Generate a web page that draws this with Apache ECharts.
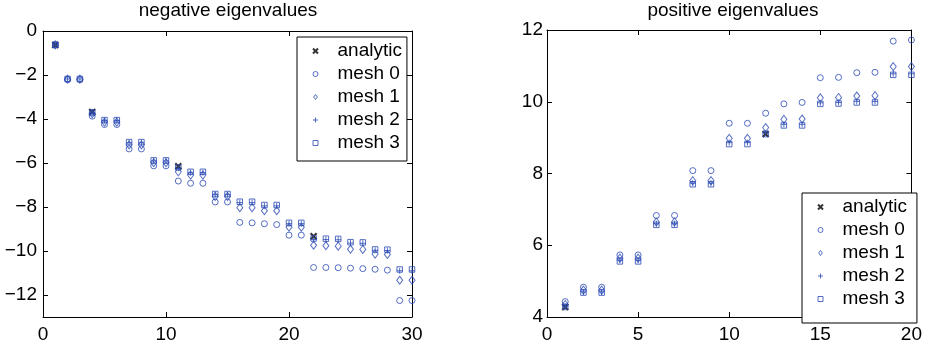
<!DOCTYPE html>
<html>
<head>
<meta charset="utf-8">
<script src="https://cdn.jsdelivr.net/npm/echarts@6/dist/echarts.min.js"></script>
<style>
  html, body { margin: 0; padding: 0; background: #fff; }
  #chart { width: 925px; height: 349px; }
</style>
</head>
<body>
<div id="chart"></div>
<script>
// ---- negative eigenvalues (index 1..30) ----
const negIndex = [1,2,3,4,5,6,7,8,9,10,11,12,13,14,15,16,17,18,19,20,21,22,23,24,25,26,27,28,29,30];
const negAnalyticIndex = [1, 4, 11, 22];
const negAnalytic = [-0.64, -3.68, -6.15, -9.33];
const negMesh0 = [-0.64,-2.21,-2.21,-3.87,-4.25,-4.25,-5.36,-5.36,-6.13,-6.13,-6.82,-6.92,-6.92,-7.77,-7.77,
                  -8.70,-8.72,-8.76,-8.80,-9.28,-9.28,-10.75,-10.75,-10.76,-10.78,-10.80,-10.83,-10.87,-12.25,-12.25];
const negMesh1 = [-0.63,-2.19,-2.19,-3.76,-4.14,-4.14,-5.18,-5.18,-5.99,-5.99,-6.40,-6.55,-6.55,-7.52,-7.52,
                  -8.03,-8.03,-8.17,-8.17,-8.92,-8.92,-9.74,-9.76,-9.78,-9.92,-9.93,-10.14,-10.16,-11.33,-11.33];
const negMesh2 = [-0.62,-2.18,-2.18,-3.71,-4.07,-4.07,-5.08,-5.08,-5.91,-5.91,-6.24,-6.44,-6.44,-7.44,-7.44,
                  -7.80,-7.80,-7.95,-7.95,-8.76,-8.76,-9.48,-9.48,-9.49,-9.64,-9.65,-9.97,-9.98,-10.90,-10.90];
const negMesh3 = [-0.62,-2.18,-2.18,-3.70,-4.05,-4.05,-5.05,-5.05,-5.88,-5.88,-6.20,-6.40,-6.40,-7.41,-7.41,
                  -7.76,-7.76,-7.91,-7.91,-8.72,-8.72,-9.43,-9.44,-9.45,-9.60,-9.61,-9.93,-9.94,-10.84,-10.84];
const negYTicks = [-12, -10, -8, -6, -4, -2, 0];

// ---- positive eigenvalues (index 1..20) ----
const posIndex = [1,2,3,4,5,6,7,8,9,10,11,12,13,14,15,16,17,18,19,20];
const posAnalyticIndex = [1, 12];
const posAnalytic = [4.28, 9.10];
const posMesh0 = [4.43,4.83,4.83,5.73,5.73,6.83,6.83,8.08,8.08,9.40,9.40,9.68,9.94,9.98,10.67,10.68,10.81,10.82,11.69,11.72];
const posMesh1 = [4.35,4.75,4.75,5.64,5.64,6.65,6.65,7.80,7.80,8.98,8.98,9.28,9.51,9.52,10.11,10.12,10.16,10.17,10.98,10.98];
const posMesh2 = [4.30,4.70,4.70,5.58,5.58,6.60,6.60,7.73,7.73,8.86,8.86,9.13,9.37,9.37,9.97,9.98,10.01,10.01,10.78,10.78];
const posMesh3 = [4.28,4.68,4.68,5.55,5.55,6.57,6.57,7.70,7.70,8.82,8.82,9.10,9.34,9.34,9.94,9.95,9.98,9.98,10.75,10.75];

const seriesNames = ['analytic', 'mesh 0', 'mesh 1', 'mesh 2', 'mesh 3'];
const titles = ['negative eigenvalues', 'positive eigenvalues'];

const FONT = '"Liberation Sans", Arial, Helvetica, sans-serif';
const BLUE = '#2a4ab4';
const FS = 19;

const pairs = (xs, ys) => xs.map((x, i) => [x, ys[i]]);
const minus = v => String(v).replace('-', '\u2212');

// hollow markers: transparent fill, outline only
const hollow = { color: 'transparent', borderColor: BLUE, borderWidth: 1 };
const markerStyles = {
  'analytic': { symbol: 'path://M0,0L10,10M10,0L0,10', symbolSize: 6,
                itemStyle: { color: 'transparent', borderColor: '#000', borderWidth: 2 } },
  'mesh 0':   { symbol: 'circle', symbolSize: 6, itemStyle: hollow },
  'mesh 1':   { symbol: 'path://M3,0L6,4L3,8L0,4Z', symbolSize: [6, 8], itemStyle: hollow },
  'mesh 2':   { symbol: 'path://M5,0L5,10M0,5L10,5', symbolSize: 6, itemStyle: hollow },
  'mesh 3':   { symbol: 'path://M0,0L10,0L10,10L0,10Z', symbolSize: 5.5, itemStyle: hollow }
};

function scatter(name, xAxisIndex, yAxisIndex, data) {
  return Object.assign({
    type: 'scatter', name, xAxisIndex, yAxisIndex, data,
    emphasis: { disabled: true }, silent: true, clip: false
  }, markerStyles[name]);
}

const axisLine = { show: true, onZero: false, lineStyle: { color: '#000', width: 1 } };
const tickIn = { show: true, inside: true, length: 5, lineStyle: { color: '#000' } };
const labelStyle = { color: '#000', fontFamily: FONT, fontSize: FS };

function xAxes(gridIndex, min, max, interval) {
  return [
    { type: 'value', gridIndex, min, max, interval, position: 'bottom',
      axisLine, axisTick: tickIn, splitLine: { show: false },
      axisLabel: Object.assign({ margin: 8, formatter: minus }, labelStyle) },
    { type: 'value', gridIndex, min, max, interval, position: 'top',
      axisLine, axisTick: tickIn, splitLine: { show: false }, axisLabel: { show: false } }
  ];
}

function legendAt(left, top, padRight, padBottom) {
  return {
    orient: 'vertical', left, top, selectedMode: false,
    data: seriesNames.map(name => ({
      name, itemStyle: { borderWidth: name === 'analytic' ? 2 : 1 }
    })),
    backgroundColor: '#fff', borderColor: '#000', borderWidth: 1, borderRadius: 0,
    padding: [4, padRight, padBottom, 15], itemWidth: 34, itemHeight: 5, itemGap: 3,
    symbolKeepAspect: true,
    textStyle: { color: '#000', fontFamily: FONT, fontSize: FS, lineHeight: 20 }
  };
}

const option = {
  animation: false,
  backgroundColor: '#fff',
  graphic: [
    { type: 'text', x: 228, y: 1, style: { text: titles[0], textAlign: 'center', fill: '#000', font: FS + 'px ' + FONT } },
    { type: 'text', x: 733, y: 1, style: { text: titles[1], textAlign: 'center', fill: '#000', font: FS + 'px ' + FONT } }
  ],
  grid: [
    { left: 43, top: 31, width: 369, height: 286 },
    { left: 547, top: 30, width: 371, height: 287 }
  ],
  xAxis: [
    ...xAxes(0, 0, 30, 10),
    ...xAxes(1, 0, 20, 5)
  ],
  yAxis: [
    { type: 'value', gridIndex: 0, min: -13, max: 0, position: 'left',
      axisLine, splitLine: { show: false },
      axisTick: Object.assign({ customValues: negYTicks }, tickIn),
      axisLabel: Object.assign({ margin: 6, customValues: negYTicks, formatter: minus }, labelStyle) },
    { type: 'value', gridIndex: 0, min: -13, max: 0, position: 'right',
      axisLine, splitLine: { show: false },
      axisTick: Object.assign({ customValues: negYTicks }, tickIn),
      axisLabel: { show: false } },
    { type: 'value', gridIndex: 1, min: 4, max: 12, interval: 2, position: 'left',
      axisLine, splitLine: { show: false }, axisTick: tickIn,
      axisLabel: Object.assign({ margin: 4 }, labelStyle) },
    { type: 'value', gridIndex: 1, min: 4, max: 12, interval: 2, position: 'right',
      axisLine, splitLine: { show: false }, axisTick: tickIn, axisLabel: { show: false } }
  ],
  legend: [legendAt(297, 37, 5, 8), legendAt(802, 193, 10, 14)],
  series: [
    scatter('analytic', 0, 0, pairs(negAnalyticIndex, negAnalytic)),
    scatter('mesh 0', 0, 0, pairs(negIndex, negMesh0)),
    scatter('mesh 1', 0, 0, pairs(negIndex, negMesh1)),
    scatter('mesh 2', 0, 0, pairs(negIndex, negMesh2)),
    scatter('mesh 3', 0, 0, pairs(negIndex, negMesh3)),
    scatter('analytic', 2, 2, pairs(posAnalyticIndex, posAnalytic)),
    scatter('mesh 0', 2, 2, pairs(posIndex, posMesh0)),
    scatter('mesh 1', 2, 2, pairs(posIndex, posMesh1)),
    scatter('mesh 2', 2, 2, pairs(posIndex, posMesh2)),
    scatter('mesh 3', 2, 2, pairs(posIndex, posMesh3))
  ]
};

const chart = echarts.init(document.getElementById('chart'), null, { renderer: 'canvas' });
chart.setOption(option);
</script>
</body>
</html>
